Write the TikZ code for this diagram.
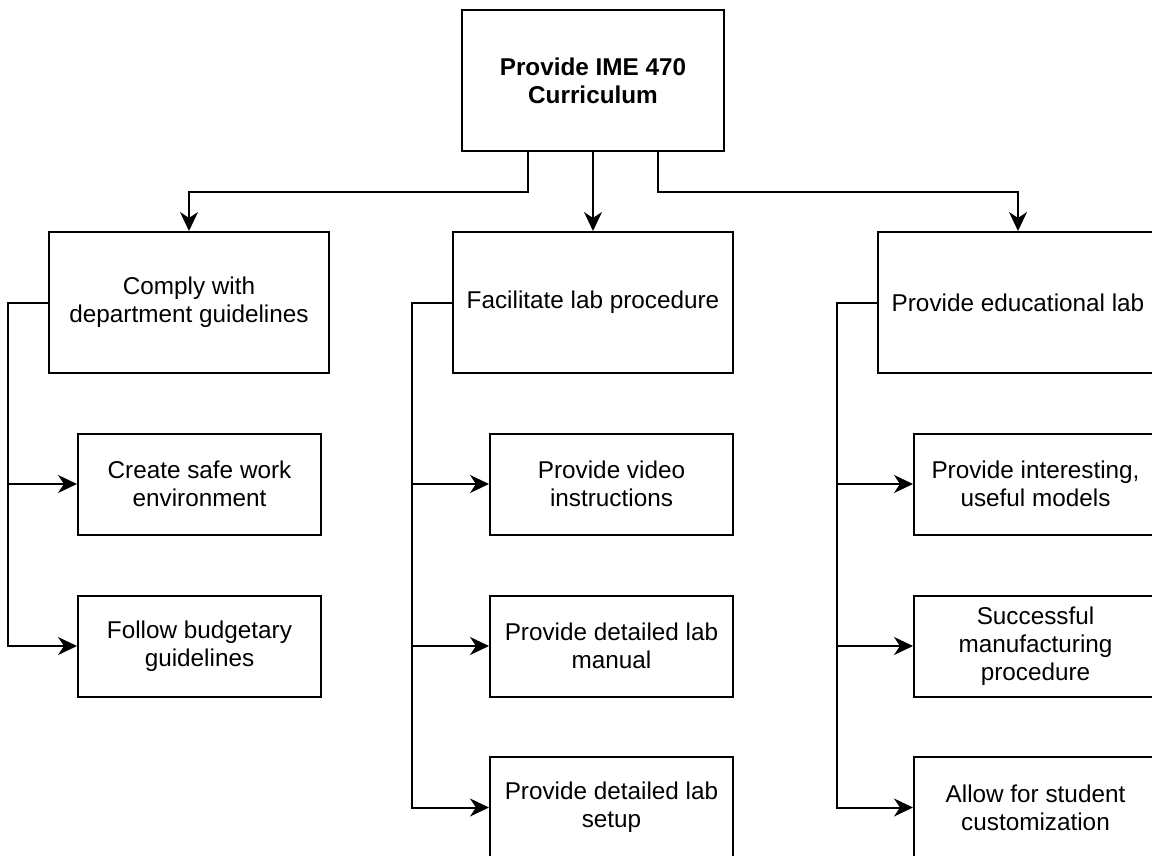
\documentclass[tikz,border=0pt]{standalone}
\usepackage{fontspec}
\setmainfont{Liberation Sans}
\usetikzlibrary{positioning,arrows.meta}

\begin{document}
\begin{tikzpicture}[
      x=1pt,y=-1pt,
      goal/.style={rectangle,draw=black,line width=2pt,fill=white,align=center,
        inner sep=0pt,minimum width=280pt,minimum height=141pt,
        font=\fontsize{24.3}{28.2}\selectfont},
      sub/.style={goal,minimum width=243pt,minimum height=101pt},
      edge/.style={-{Stealth[length=19pt,width=18pt,inset=6pt]},line width=2pt,draw=black},
      >=Stealth
    ]
    \useasboundingbox (0,0) rectangle (1152,856);
    \node[goal,minimum width=262pt,font=\fontsize{24.3}{28.2}\selectfont\bfseries] (top) at (593,80.5) {Provide IME 470\\Curriculum};
    \node[goal] (comply) at (189,302.5) {Comply with\\department guidelines};
    \node[goal] (facil) at (593,302.5) {Facilitate lab procedure};
    \node[goal] (edu) at (1018,302.5) {Provide educational lab};
    \node[sub] (safe) at (199.5,484) {Create safe work\\environment};
    \node[sub] (budget) at (199.5,646) {Follow budgetary\\guidelines};
    \node[sub] (video) at (611.5,484) {Provide video\\instructions};
    \node[sub] (manual) at (611.5,646) {Provide detailed lab\\manual};
    \node[sub] (setup) at (611.5,807.5) {Provide detailed lab\\setup};
    \node[sub] (models) at (1035.5,484) {Provide interesting,\\useful models};
    \node[sub] (manuf) at (1035.5,646) {Successful\\manufacturing\\procedure};
    \node[sub] (custom) at (1035.5,807.5) {Allow for student\\customization};
    % top level
    \draw[edge] ([xshift=-65pt]top.south) -- ++(0,40) -| (comply.north);
    \draw[edge] (top) -- (facil);
    \draw[edge] ([xshift=65pt]top.south) -- ++(0,40) -| (edu.north);
    % sub goals
    \foreach \p/\c in {comply/safe,comply/budget,facil/video,facil/manual,facil/setup,edu/models,edu/manuf,edu/custom}
      \draw[edge] (\p.west) -- ++(-40,0) |- (\c.west);
  \end{tikzpicture}
\end{document}
